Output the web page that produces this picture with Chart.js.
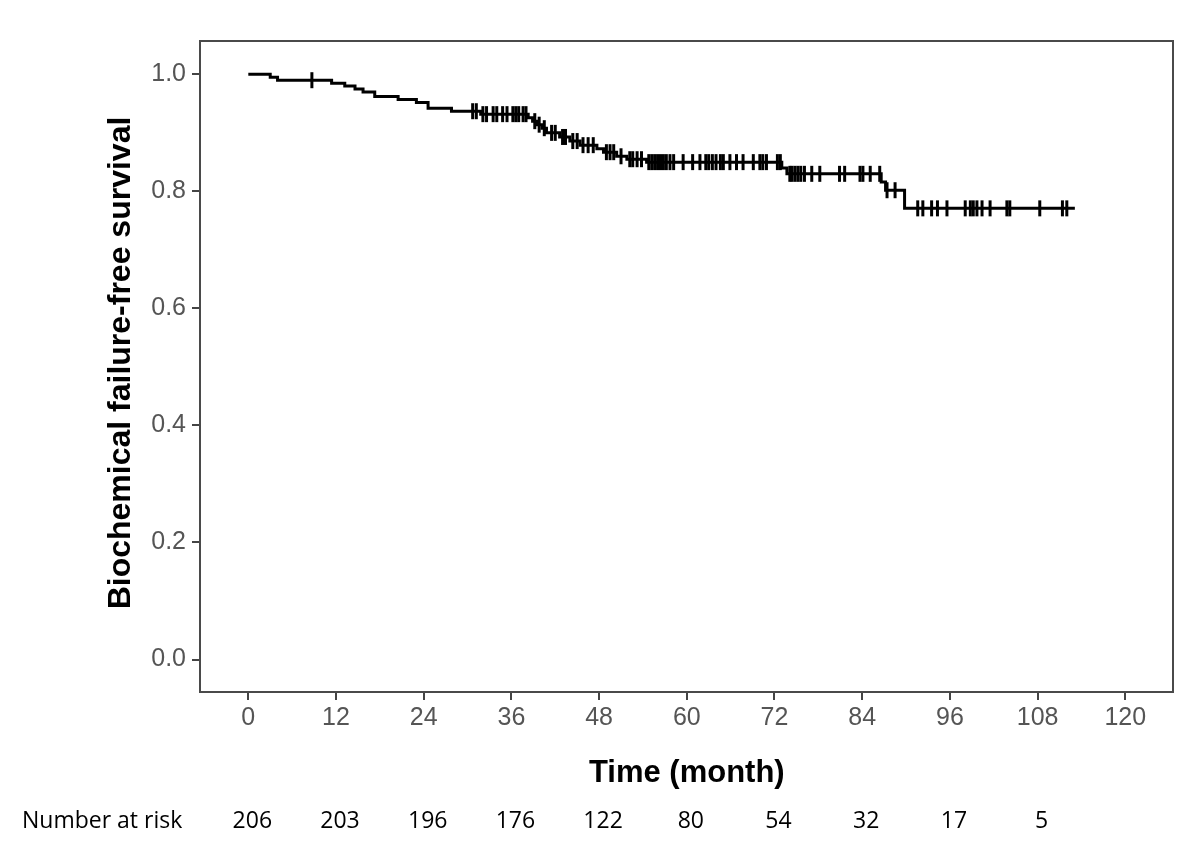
<!DOCTYPE html>
<html>
<head>
<meta charset="utf-8">
<script src="https://cdn.jsdelivr.net/npm/chart.js@4.4.0/dist/chart.umd.min.js"></script>
<style>
  html, body { margin: 0; padding: 0; background: #fff; }
  #km { display: block; }
</style>
</head>
<body>
<canvas id="km" width="1200" height="860"></canvas>
<script>
// Kaplan-Meier steps (time in months, survival)
var eventTimes = [0, 3.0, 4.0, 11.4, 13.2, 14.6, 15.7, 17.3, 20.5, 23.0, 24.6, 27.8, 31.8,
    38.3, 38.9, 39.5, 40.2, 40.8, 42.6, 44.0, 45.4, 47.7, 48.6, 50.4, 51.8, 54.5,
    73.0, 73.7, 86.6, 87.2, 89.8, 113.1];
var survival = [1.000, 0.995, 0.990, 0.985, 0.980, 0.975, 0.970, 0.962, 0.957, 0.952, 0.942, 0.937, 0.932,
    0.926, 0.920, 0.914, 0.908, 0.900, 0.893, 0.886, 0.879, 0.873, 0.867, 0.860, 0.855, 0.850,
    0.840, 0.830, 0.816, 0.802, 0.771, 0.771];

// censored observations (months)
var censorTimes = [8.7,
    30.7, 31.2, 32.1, 32.6, 33.5, 34.0, 34.8, 35.4, 36.2, 36.6, 37.0, 37.6, 38.0,
    39.2, 39.8, 40.5, 41.5, 42.0, 43.0, 43.4, 44.4, 45.0, 45.8, 46.5, 47.2,
    49.0, 49.5, 50.0, 51.0, 52.2, 52.6, 53.2, 53.8,
    54.8, 55.2, 55.6, 56.0, 56.4, 56.8, 57.2, 57.7, 58.2, 59.5, 60.8, 61.8, 62.6, 63.0,
    63.5, 64.0, 64.6, 65.0, 65.9, 66.8, 67.7, 69.1, 70.0, 70.4, 70.9, 72.4, 72.8,
    74.1, 74.4, 74.8, 75.2, 75.6, 76.1, 77.1, 78.2, 80.9, 81.6, 83.7, 84.1, 85.1, 86.4,
    87.4, 88.5,
    91.6, 92.3, 93.5, 94.3, 95.6, 98.1, 98.8, 99.2, 99.7, 100.4, 101.5, 103.8, 104.2,
    108.3, 111.4, 112.0];

var xTicks = [0, 12, 24, 36, 48, 60, 72, 84, 96, 108, 120];
var yTicks = [0, 0.2, 0.4, 0.6, 0.8, 1.0];
var riskTimes = [0, 12, 24, 36, 48, 60, 72, 84, 96, 108];
var atRisk = [206, 203, 196, 176, 122, 80, 54, 32, 17, 5];

function survAt(t) {
    var s = survival[0];
    for (var i = 0; i < eventTimes.length; i++) {
        if (eventTimes[i] <= t) s = survival[i];
    }
    return s;
}

var curve = eventTimes.map(function (t, i) { return {x: t, y: survival[i]}; });
var censored = censorTimes.map(function (t) { return {x: t, y: survAt(t)}; });

var extras = {
    id: 'extras',
    afterDraw: function (chart) {
        var c = chart.ctx, a = chart.chartArea, xs = chart.scales.x;
        c.save();
        // frame
        c.strokeStyle = '#4a4a4a';
        c.lineWidth = 2;
        c.strokeRect(a.left, a.top, a.right - a.left, a.bottom - a.top);
        // axis titles
        c.fillStyle = '#000';
        c.font = 'bold 31px "Liberation Sans", Arial, sans-serif';
        c.textAlign = 'center';
        c.textBaseline = 'alphabetic';
        c.fillText('Time (month)', (xs.getPixelForValue(0) + xs.getPixelForValue(120)) / 2, 782);
        c.save();
        c.translate(130, 363);
        c.rotate(-Math.PI / 2);
        c.font = 'bold 32px "Liberation Sans", Arial, sans-serif';
        c.fillText('Biochemical failure-free survival', 0, 0);
        c.restore();
        // number at risk
        c.font = '23px "Open Sans", sans-serif';
        c.textAlign = 'left';
        c.fillText('Number at risk', 22, 828);
        c.textAlign = 'center';
        riskTimes.forEach(function (t, i) {
            c.fillText(String(atRisk[i]), xs.getPixelForValue(t) + 4, 828);
        });
        c.restore();
    }
};

new Chart(document.getElementById('km'), {
    type: 'line',
    data: {
        datasets: [
            {
                data: curve,
                stepped: true,
                borderColor: '#000',
                borderWidth: 3,
                pointRadius: 0,
                fill: false
            },
            {
                data: censored,
                showLine: false,
                pointStyle: 'line',
                rotation: 90,
                pointRadius: 8,
                pointBorderWidth: 3,
                pointBorderColor: '#000',
                borderColor: '#000'
            }
        ]
    },
    options: {
        responsive: false,
        animation: false,
        layout: { padding: { left: 0, top: 41, right: 27, bottom: 0 } },
        plugins: { legend: { display: false }, tooltip: { enabled: false } },
        scales: {
            x: {
                type: 'linear',
                min: -6.61,
                max: 126.53,
                afterBuildTicks: function (s) { s.ticks = xTicks.map(function (v) { return {value: v}; }); },
                afterFit: function (s) { s.height = 168; },
                grid: { drawOnChartArea: false, tickLength: 8, color: '#444', lineWidth: 2 },
                border: { display: false },
                ticks: {
                    color: '#555',
                    padding: 3,
                    maxRotation: 0,
                    font: { family: '"Liberation Sans", Arial, sans-serif', size: 25 }
                }
            },
            y: {
                min: -0.0555,
                max: 1.057,
                afterBuildTicks: function (s) { s.ticks = yTicks.map(function (v) { return {value: v}; }); },
                afterFit: function (s) { s.width = 200; },
                grid: { drawOnChartArea: false, tickLength: 8, color: '#444', lineWidth: 2 },
                border: { display: false },
                ticks: {
                    color: '#555',
                    padding: 6,
                    font: { family: '"Liberation Sans", Arial, sans-serif', size: 25 },
                    callback: function (v) { return v.toFixed(1); }
                }
            }
        }
    },
    plugins: [extras]
});
</script>
</body>
</html>
